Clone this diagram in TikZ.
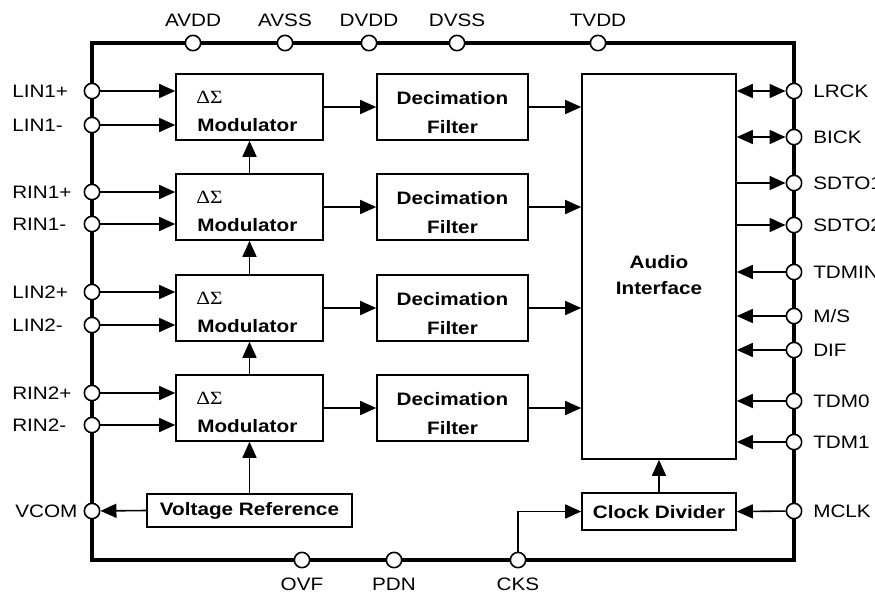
\documentclass[tikz,border=0pt]{standalone}
\usepackage{fontspec}
\setmainfont{Liberation Sans}[FakeStretch=1.15]
\newfontfamily\grfont{Liberation Serif}[FakeStretch=1.15]
\usetikzlibrary{arrows.meta}
\begin{document}
\begin{tikzpicture}[x=0.75pt,y=-0.75pt,
 pin/.style={circle,draw,fill=white,line width=1.2pt,minimum size=11.5pt,inner sep=0pt},
 blk/.style={draw,line width=1.2pt,inner sep=0pt,fill=white},
 btxt/.style={font=\bfseries\fontsize{13.5}{16}\selectfont,inner sep=0pt},
 gtxt/.style={font=\grfont\fontsize{14}{16}\selectfont,inner sep=0pt},
 lbl/.style={font=\fontsize{13.5}{16}\selectfont,inner sep=0pt},
 sig/.style={line width=1.2pt,-{Triangle[length=12pt,width=10.5pt]}},
 bisig/.style={line width=1.2pt,{Triangle[length=12pt,width=10.5pt]}-{Triangle[length=12pt,width=10.5pt]}},
 frame/.style={line width=3pt},
]
\useasboundingbox (0,0) rectangle (875,597);
% frame
\draw[frame] (92,43) rectangle (794,560);

% modulators
\foreach \i/\y in {1/107,2/207,3/308,4/408}{
  \node[blk,minimum width=110.25pt,minimum height=49.5pt] (m\i) at (249.5,\y) {};
  \node[gtxt,anchor=west] (mg\i) at (196,\y-10) {ΔΣ};
  \node[btxt,anchor=west] (mt\i) at (197,\y+18) {Modulator};
  \node[blk,minimum width=113.25pt,minimum height=49.5pt] (d\i) at (452.5,\y) {};
  \node[btxt] (da\i) at (452.5,\y-9) {Decimation};
  \node[btxt] (db\i) at (452.5,\y+20) {Filter};
}
% audio interface
\node[blk,minimum width=115.5pt,minimum height=288.75pt] (ai) at (659,266.5) {};
\node[btxt] (ai1) at (659,262) {Audio};
\node[btxt] (ai2) at (659,288) {Interface};
% clock divider
\node[blk,minimum width=115.5pt,minimum height=27.75pt] (cd) at (659,511.5) {};
\node[btxt] (cdt) at (659,512) {Clock Divider};
% voltage reference
\node[blk,minimum width=153.75pt,minimum height=24.75pt] (vr) at (249.5,510.5) {};
\node[btxt] (vrt) at (249.5,511) {Voltage Reference};

% left pins
\foreach \n/\y/\t in {L1p/91/LIN1+,L1m/125/LIN1-,R1p/192/RIN1+,R1m/224/RIN1-,L2p/292/LIN2+,L2m/325/LIN2-,R2p/393/RIN2+,R2m/425/RIN2-}{
  \node[pin] (p\n) at (92,\y) {};
  \node[lbl,anchor=west] (t\n) at (12,\y) {\t};
}
\node[pin] (pVCOM) at (92,511) {};
\node[lbl,anchor=west] (tVCOM) at (15,511) {VCOM};

% top pins
\foreach \n/\x in {AVDD/193,AVSS/285,DVDD/369,DVSS/457,TVDD/598}{
  \node[pin] (p\n) at (\x,43) {};
  \node[lbl] (t\n) at (\x,20) {\n};
}
% bottom pins
\foreach \n/\x in {OVF/302,PDN/394,CKS/518}{
  \node[pin] (p\n) at (\x,560) {};
  \node[lbl] (t\n) at (\x,584) {\n};
}
% right pins
\foreach \n/\y/\t in {LRCK/91/LRCK,BICK/137/BICK,SDTOa/183/SDTO1,SDTOb/225/SDTO2,TDMIN/272/TDMIN,MS/316/{M/S},DIF/350/DIF,TDMa/401/TDM0,TDMb/442/TDM1,MCLK/511/MCLK}{
  \node[pin] (p\n) at (794,\y) {};
  \node[lbl,anchor=west] (t\n) at (813,\y) {\t};
}

% inputs to modulators
\draw[sig] (pL1p) -- (pL1p -| m1.west);
\draw[sig] (pL1m) -- (pL1m -| m1.west);
\draw[sig] (pR1p) -- (pR1p -| m2.west);
\draw[sig] (pR1m) -- (pR1m -| m2.west);
\draw[sig] (pL2p) -- (pL2p -| m3.west);
\draw[sig] (pL2m) -- (pL2m -| m3.west);
\draw[sig] (pR2p) -- (pR2p -| m4.west);
\draw[sig] (pR2m) -- (pR2m -| m4.west);

% modulator chain
\draw[sig] (m2.north) -- (m1.south);
\draw[sig] (m3.north) -- (m2.south);
\draw[sig] (m4.north) -- (m3.south);
\draw[sig] (vr.north) -- (m4.south);
\draw[sig] (vr.west) -- (pVCOM);

% modulators to filters to audio interface
\foreach \i in {1,2,3,4}{
  \draw[sig] (m\i.east) -- (d\i.west);
  \draw[sig] (d\i.east) -- (d\i.east -| ai.west);
}

% audio interface pins
\draw[bisig] (pLRCK -| ai.east) -- (pLRCK);
\draw[bisig] (pBICK -| ai.east) -- (pBICK);
\draw[sig] (pSDTOa -| ai.east) -- (pSDTOa);
\draw[sig] (pSDTOb -| ai.east) -- (pSDTOb);
\foreach \n in {TDMIN,MS,DIF,TDMa,TDMb}{
  \draw[sig] (p\n) -- (p\n -| ai.east);
}

% clock
\draw[sig] (pMCLK) -- (cd.east);
\draw[sig] (cd.north) -- (ai.south);
\draw[sig] (pCKS) |- (cd.west);
\end{tikzpicture}
\end{document}
